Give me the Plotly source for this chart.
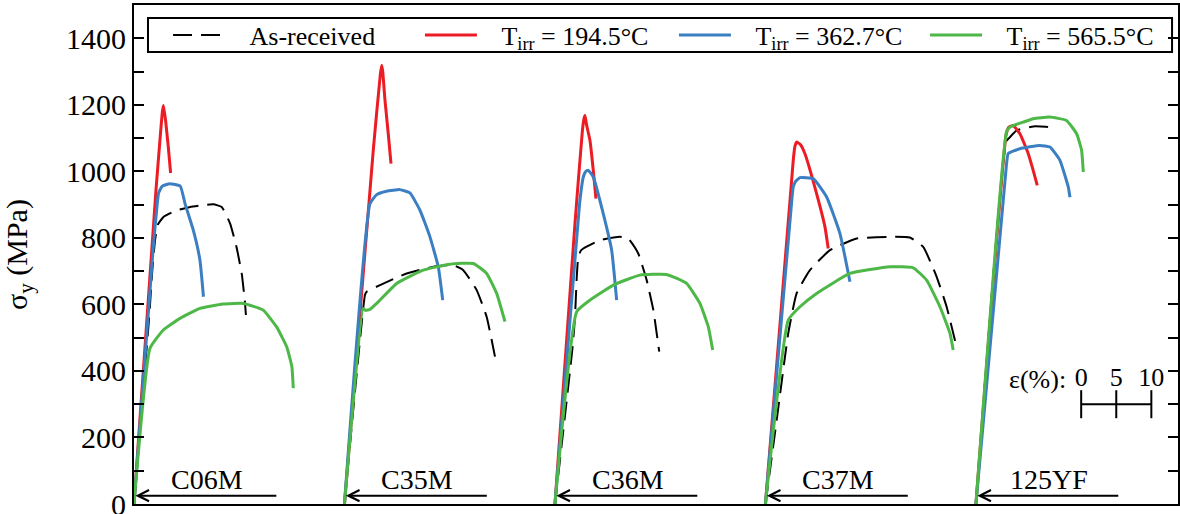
import plotly.graph_objects as go

# ---------------- data (strain %, stress MPa), relative to each specimen origin ----------------
specimens = ["C06M", "C35M", "C36M", "C37M", "125YF"]
group_offset = [0, 30, 60, 90, 120]          # horizontal offset of each specimen (strain %)

series_names = ["As-received", "T<sub>irr</sub> = 194.5°C", "T<sub>irr</sub> = 362.7°C", "T<sub>irr</sub> = 565.5°C"]

# C06M
C06M_ar_eps = [0, 2.2, 2.6, 3.0, 3.4, 4.2, 6.0, 8.0, 10.0, 11.3, 12.5, 13.7, 14.6, 15.35, 15.8, 15.95]
C06M_ar_sig = [0, 573, 700, 793, 840, 863, 882, 893, 899, 901, 893, 843, 773, 693, 610, 568]
C06M_t1_eps = [0, 3.13, 3.8, 4.05, 4.2, 4.5, 4.89, 5.22]
C06M_t1_sig = [0, 943, 1120, 1180, 1198, 1153, 1073, 995]
C06M_t2_eps = [0, 2.75, 3.3, 3.5, 4.0, 5.1, 6.6, 7.27, 8.45, 9.4, 9.9]
C06M_t2_sig = [0, 773, 900, 935, 955, 963, 955, 903, 823, 733, 623]
C06M_t3_eps = [0, 2.28, 4.18, 6.56, 9.4, 12.7, 15.6, 18.4, 20.3, 21.76, 22.5, 22.7]
C06M_t3_sig = [0, 468, 523, 558, 588, 601, 603, 583, 533, 473, 413, 348]

# C35M
C35M_ar_eps = [0, 2.92, 3.16, 5.06, 8.86, 12.66, 15.5, 16.93, 18.84, 20.26, 21.45]
C35M_ar_sig = [0, 628, 638, 658, 693, 713, 718, 703, 643, 563, 443]
C35M_t1_eps = [0, 4.1, 5.1, 5.3, 5.45, 5.77, 6.24, 6.63]
C35M_t1_sig = [0, 1063, 1290, 1319, 1300, 1214, 1113, 1023]
C35M_t2_eps = [0, 3.63, 4.59, 6.0, 7.9, 9.33, 10.76, 12.18, 13.37, 14.0]
C35M_t2_sig = [0, 903, 930, 940, 945, 935, 883, 803, 713, 613]
C35M_t3_eps = [0, 2.68, 3.0, 3.63, 4.59, 7.44, 11.23, 15.04, 18.36, 20.26, 21.69, 22.87]
C35M_t3_sig = [0, 588, 582, 585, 603, 663, 703, 721, 723, 693, 633, 548]

# C36M
C36M_ar_eps = [0, 2.5, 2.85, 3.1, 3.32, 3.7, 4.04, 6.41, 9.26, 10.45, 11.87, 13.07, 14.02, 14.86]
C36M_ar_sig = [0, 470, 560, 680, 743, 762, 768, 793, 803, 798, 753, 673, 583, 458]
C36M_t1_eps = [0, 2.85, 3.9, 4.15, 4.28, 4.5, 4.99, 5.46, 5.84]
C36M_t1_sig = [0, 843, 1120, 1160, 1168, 1140, 1093, 1003, 918]
C36M_t2_eps = [0, 3.3, 3.56, 4.04, 4.4, 4.75, 5.46, 6.88, 8.08, 8.79]
C36M_t2_sig = [0, 850, 913, 983, 1000, 1003, 983, 873, 763, 613]
C36M_t3_eps = [0, 3.09, 4.99, 8.31, 12.11, 15.9, 18.76, 20.66, 21.85, 22.48]
C36M_t3_sig = [0, 578, 613, 658, 688, 690, 663, 603, 533, 463]

# C37M
C37M_ar_eps = [0, 1.6, 3.25, 4.44, 6.34, 9.19, 13.0, 17.74, 20.59, 22.49, 24.4, 25.82, 27.0, 27.1]
C37M_ar_sig = [0, 252, 513, 633, 703, 763, 798, 803, 801, 773, 683, 593, 493, 483]
C37M_t1_eps = [0, 3.96, 4.2, 4.44, 5.0, 5.63, 7.29, 8.48, 8.95]
C37M_t1_sig = [0, 1033, 1075, 1088, 1080, 1053, 933, 833, 768]
C37M_t2_eps = [0, 3.7, 3.96, 4.3, 4.92, 6.81, 8.72, 10.62, 12.04]
C37M_t2_sig = [0, 900, 953, 970, 981, 978, 923, 813, 668]
C37M_t3_eps = [0, 3.25, 4.92, 7.29, 12.04, 17.74, 21.06, 22.97, 24.87, 26.3, 26.76]
C37M_t3_sig = [0, 553, 593, 633, 693, 713, 710, 673, 593, 513, 463]

# 125YF
Y125_ar_eps = [0, 4.3, 4.85, 5.8, 8.17, 10.3, 10.55]
Y125_ar_sig = [0, 1090, 1103, 1123, 1135, 1133, 1125]
Y125_t1_eps = [0, 4.3, 4.7, 5.3, 6.27, 7.46, 8.2, 8.74]
Y125_t1_sig = [0, 1110, 1133, 1138, 1113, 1053, 1000, 958]
Y125_t2_eps = [0, 4.35, 4.6, 6.27, 9.12, 10.55, 11.97, 13.16, 13.4]
Y125_t2_sig = [0, 1020, 1053, 1068, 1078, 1073, 1033, 953, 922]
Y125_t3_eps = [0, 4.37, 4.85, 6.74, 8.17, 10.5, 12.9, 14.35, 15.06, 15.3]
Y125_t3_sig = [0, 1120, 1133, 1148, 1158, 1163, 1153, 1113, 1063, 998]

# strain scale bar (%)
scale_ticks = [0, 5, 10]
scale_start = 135
scale_level = 300
arrow_length = 20.5
arrow_level = 25
label_pos = 10.4
label_level = 75

y_ticks = [0, 200, 400, 600, 800, 1000, 1200, 1400]

# ---------------- styling ----------------
FONT = "Liberation Serif"
colors = ["black", "#ec1c24", "#3b7fc2", "#4db848"]
widths = [2, 3, 3, 3]
dashes = ["19px,9px", "solid", "solid", "solid"]
legend_ids = ["legend", "legend2", "legend3", "legend4"]
legend_x = [0.0326, 0.2739, 0.5172, 0.7577]

data = {
    "C06M": [(C06M_ar_eps, C06M_ar_sig), (C06M_t1_eps, C06M_t1_sig), (C06M_t2_eps, C06M_t2_sig), (C06M_t3_eps, C06M_t3_sig)],
    "C35M": [(C35M_ar_eps, C35M_ar_sig), (C35M_t1_eps, C35M_t1_sig), (C35M_t2_eps, C35M_t2_sig), (C35M_t3_eps, C35M_t3_sig)],
    "C36M": [(C36M_ar_eps, C36M_ar_sig), (C36M_t1_eps, C36M_t1_sig), (C36M_t2_eps, C36M_t2_sig), (C36M_t3_eps, C36M_t3_sig)],
    "C37M": [(C37M_ar_eps, C37M_ar_sig), (C37M_t1_eps, C37M_t1_sig), (C37M_t2_eps, C37M_t2_sig), (C37M_t3_eps, C37M_t3_sig)],
    "125YF": [(Y125_ar_eps, Y125_ar_sig), (Y125_t1_eps, Y125_t1_sig), (Y125_t2_eps, Y125_t2_sig), (Y125_t3_eps, Y125_t3_sig)],
}

PAD = "\u00a0" * 3

fig = go.Figure()
for si in range(4):
    for gi, spec in enumerate(specimens):
        eps, sig = data[spec][si]
        fig.add_trace(go.Scatter(
            x=[e + group_offset[gi] for e in eps], y=sig, mode="lines",
            line=dict(color=colors[si], width=widths[si], dash=dashes[si], shape="spline", smoothing=0.4),
            name=PAD + series_names[si], showlegend=(gi == 0), legend=legend_ids[si],
            hoverinfo="skip",
        ))

annotations = []
for gi, spec in enumerate(specimens):
    o = group_offset[gi]
    annotations.append(dict(x=o + 0.2, y=arrow_level, ax=o + arrow_length, ay=arrow_level,
                            xref="x", yref="y", axref="x", ayref="y", text="", showarrow=True,
                            arrowhead=5, arrowsize=1.1, arrowwidth=2, arrowcolor="black", standoff=0, startstandoff=0))
    annotations.append(dict(x=o + label_pos, y=label_level, xref="x", yref="y", text=spec, showarrow=False,
                            font=dict(family=FONT, size=28, color="black"), xanchor="center", yanchor="middle"))

# scale bar
fig.add_trace(go.Scatter(x=[scale_start + t for t in scale_ticks], y=[scale_level] * len(scale_ticks),
                         mode="lines+markers", line=dict(color="black", width=2),
                         marker=dict(symbol="line-ns", size=20, line=dict(color="black", width=2)),
                         showlegend=False, hoverinfo="skip"))
fig.add_trace(go.Scatter(x=[scale_start + t for t in scale_ticks], y=[375] * len(scale_ticks),
                         mode="text", text=[str(t) for t in scale_ticks],
                         textfont=dict(family=FONT, size=26, color="black"),
                         showlegend=False, hoverinfo="skip"))
annotations.append(dict(x=scale_start - 1.9, y=375, xref="x", yref="y", text="ε(%):", showarrow=False,
                        xanchor="right", yanchor="middle", font=dict(family=FONT, size=26, color="black")))

# legend frame (paper coordinates)
shapes = [dict(type="rect", xref="paper", yref="paper", x0=0.0134, x1=0.9943, y0=0.9058, y1=0.9739,
               line=dict(color="black", width=2), fillcolor="rgba(0,0,0,0)", layer="above")]

legend_common = dict(orientation="h", y=0.9399, xanchor="left", yanchor="middle",
                     borderwidth=0, bgcolor="rgba(0,0,0,0)",
                     font=dict(family=FONT, size=26, color="black"), itemwidth=52)

fig.update_layout(
    width=1180, height=514,
    margin=dict(l=134, r=2, t=5, b=10),
    paper_bgcolor="white", plot_bgcolor="white",
    font=dict(family=FONT, size=26, color="black"),
    showlegend=True,
    legend=dict(x=legend_x[0], **legend_common),
    legend2=dict(x=legend_x[1], **legend_common),
    legend3=dict(x=legend_x[2], **legend_common),
    legend4=dict(x=legend_x[3], **legend_common),
    annotations=annotations,
    shapes=shapes,
)
fig.update_xaxes(range=[0, 148.8], showline=True, linecolor="black", linewidth=2, mirror=True,
                 showticklabels=False, ticks="", showgrid=False, zeroline=False)
fig.update_yaxes(range=[0, 1500], showline=True, linecolor="black", linewidth=2, mirror="allticks",
                 tickvals=y_ticks, ticktext=[str(v) for v in y_ticks], ticks="inside", ticklen=10, tickwidth=2, tickcolor="black",
                 minor=dict(dtick=100, ticks="inside", ticklen=10, tickwidth=2, tickcolor="black"),
                 tickfont=dict(family=FONT, size=30, color="black"), ticklabeloverflow="allow",
                 showgrid=False, zeroline=False, automargin=False,
                 title=dict(text="σ<sub>y</sub> (MPa)", font=dict(family=FONT, size=30, color="black"), standoff=32))

fig.write_html("out.html", config={"displayModeBar": False},
               post_script="document.body.style.margin='0';document.body.style.overflow='hidden';")
